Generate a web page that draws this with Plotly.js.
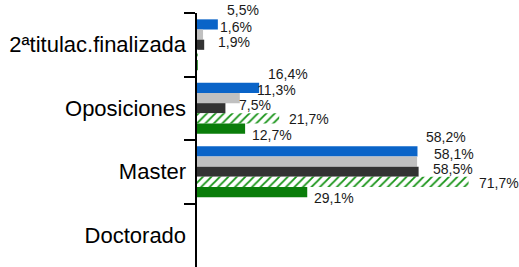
<!DOCTYPE html>
<html>
<head>
<meta charset="utf-8">
<script src="https://cdn.plot.ly/plotly-3.0.1.min.js"></script>
<style>html,body{margin:0;padding:0;background:#fff;}#chart{width:519px;height:267px;}</style>
</head>
<body>
<div id="chart"></div>
<script>
// Categories (top to bottom)
const categories = ["2ªtitulac.finalizada", "Oposiciones", "Master", "Doctorado"];

// Series values (%), in category order above
const serieBlue      = [5.5, 16.4, 58.2, null];
const serieLightGray = [1.6, 11.3, 58.1, null];
const serieDarkGray  = [1.9, 7.5, 58.5, null];
const serieHatched   = [0.2, 21.7, 71.7, null];
const serieGreen     = [0.2, 12.7, 29.1, null];

const seriesValues = [serieBlue, serieLightGray, serieDarkGray, serieHatched, serieGreen];

// Styles (kept apart from data)
const styles = [
  {color: "#0a64c8"},
  {color: "#c0c0c0"},
  {color: "#333333"},
  {color: "#ffffff", pattern: {shape: "/", fgcolor: "#139213", bgcolor: "#ffffff", size: 6, solidity: 0.3}},
  {color: "#0a7d0a"}
];
const labelYShift = [14, 8, 3, -1, -6];
const labelXShift = [7, 15, 12, 8, 5];

function fmt(v){ return v.toFixed(1).replace(".", ",") + "%"; }

const traces = seriesValues.map((vals, i) => ({
  type: "bar",
  orientation: "h",
  y: categories,
  x: vals,
  marker: Object.assign({color: styles[i].color, line: {width: 0}}, styles[i].pattern ? {pattern: styles[i].pattern} : {}),
  hoverinfo: "skip",
  showlegend: false
}));

// Data labels via annotations, derived from data arrays
const nS = seriesValues.length;
const groupWidth = 0.8;
const annotations = [];
seriesValues.forEach((vals, i) => {
  vals.forEach((v, j) => {
    if (v === null || v < 1) return;
    const w = groupWidth / nS;
    const off = -groupWidth / 2 + w * (i + 0.5);
    annotations.push({
      x: v, y: j + off, xref: "x", yref: "y",
      text: fmt(v), showarrow: false,
      xanchor: "left", yanchor: "middle",
      xshift: labelXShift[i], yshift: labelYShift[i],
      font: {family: "Liberation Sans, Arial, sans-serif", size: 14, color: "#1a1a1a"}
    });
  });
});

const layout = {
  width: 519, height: 267,
  margin: {l: 197, r: 0, t: 13, b: 0, pad: 0},
  paper_bgcolor: "#ffffff", plot_bgcolor: "#ffffff",
  barmode: "group", bargap: 0.2, bargroupgap: 0,
  xaxis: {range: [0, 85], visible: false, fixedrange: true},
  yaxis: {
    type: "category",
    categoryorder: "array", categoryarray: categories,
    range: [3.5, -0.5],
    showline: true, linecolor: "#000000", linewidth: 2.5,
    ticks: "outside", tickson: "boundaries", ticklen: 11, tickwidth: 2, tickcolor: "#000000",
    ticklabelstandoff: 4,
    showgrid: false, zeroline: false,
    tickfont: {family: "Liberation Sans, Arial, sans-serif", size: 22, color: "#000000"}
  },
  annotations: annotations,
  showlegend: false
};

Plotly.newPlot("chart", traces, layout, {staticPlot: true, displayModeBar: false});
</script>
</body>
</html>
